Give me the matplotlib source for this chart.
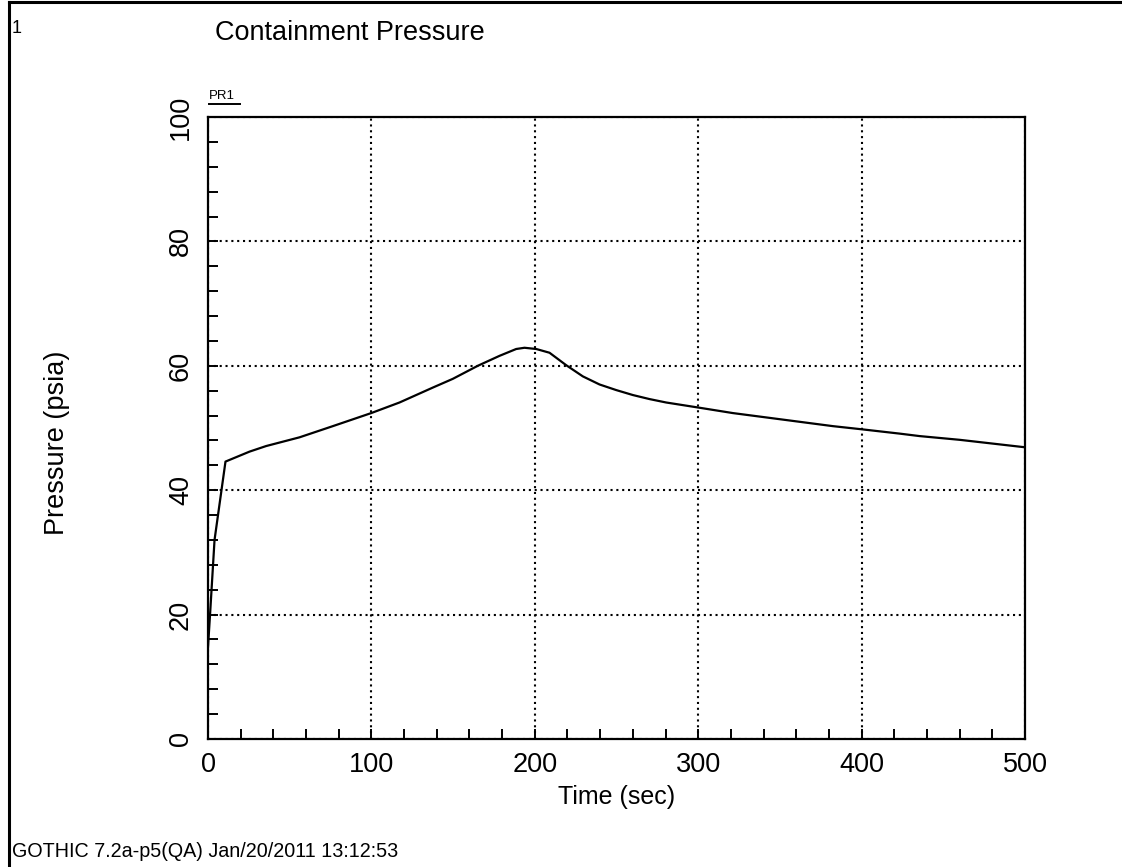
import matplotlib
matplotlib.use("Agg")
import matplotlib.pyplot as plt
from matplotlib.lines import Line2D
from matplotlib.ticker import MultipleLocator

plt.rcParams["font.family"] = ["Liberation Sans", "DejaVu Sans"]

# Containment pressure history (PR1)
time_s = [0.0, 1.3, 4.0, 10.7, 25.4, 35.6, 56.0, 76.4, 99.9, 117.2, 137.6,
          149.8, 165.1, 178.4, 188.6, 193.7, 200.9, 209.0, 219.2, 229.4,
          239.6, 249.8, 260.0, 270.2, 280.4, 299.8, 321.2, 341.6, 362.0,
          382.4, 399.8, 423.2, 435.5, 460.0, 480.0, 500.0]
pressure_psia = [14.8, 20.2, 32.0, 44.6, 46.2, 47.1, 48.5, 50.3, 52.4, 54.1,
                 56.5, 57.9, 60.0, 61.6, 62.7, 62.9, 62.7, 62.1, 60.1, 58.3,
                 57.0, 56.1, 55.3, 54.65, 54.1, 53.3, 52.4, 51.7, 51.0, 50.3,
                 49.8, 49.1, 48.7, 48.1, 47.5, 46.9]

x_major = [0, 100, 200, 300, 400, 500]
y_major = [0, 20, 40, 60, 80, 100]

W, H = 1122, 867
fig = plt.figure(figsize=(W / 100, H / 100), dpi=100)
ax = fig.add_axes([208 / W, 1 - 739 / H, (1025 - 208) / W, (739 - 117) / H])

ax.plot(time_s, pressure_psia, color="black", lw=1.6, solid_joinstyle="round")

ax.set_xlim(0, 500)
ax.set_ylim(0, 100)
ax.set_xticks(x_major)
ax.set_yticks(y_major)
ax.set_xticklabels([str(v) for v in x_major])
ax.set_yticklabels([str(v) for v in y_major], rotation=90, va="center")
ax.xaxis.set_minor_locator(MultipleLocator(20))
ax.yaxis.set_minor_locator(MultipleLocator(4))

ax.tick_params(which="both", direction="in", length=7.5, width=1.4,
               top=False, right=False, labelsize=19.5, color="black")
ax.tick_params(axis="x", pad=9)
ax.tick_params(axis="y", pad=10)

for s in ax.spines.values():
    s.set_linewidth(1.6)
    s.set_color("black")

ax.grid(True, which="major", color="black", linestyle=(0, (1, 1.8)), lw=1.5)

# legend tag above the plot
fig.text(209 / W, 1 - 99 / H, "PR1", fontsize=9.5, ha="left", va="baseline")
fig.add_artist(Line2D([209 / W, 240 / W], [1 - 104 / H, 1 - 104 / H],
                      color="black", lw=1.4, transform=fig.transFigure))

# page frame, title and annotations
fig.add_artist(Line2D([9 / W, 9 / W], [0, 1 - 2 / H], color="black", lw=2.2,
                      transform=fig.transFigure))
fig.add_artist(Line2D([9 / W, 1], [1 - 2 / H, 1 - 2 / H], color="black", lw=2.2,
                      transform=fig.transFigure))
fig.text(12 / W, 1 - 33 / H, "1", fontsize=13, ha="left", va="baseline")
fig.text(215 / W, 1 - 40 / H, "Containment Pressure", fontsize=19.5,
         ha="left", va="baseline")
fig.text(617 / W, 1 - 797 / H, "Time (sec)", fontsize=18,
         ha="center", va="center")
fig.text(57 / W, 1 - 443 / H, "Pressure (psia)", fontsize=19.5,
         ha="center", va="center", rotation=90)
fig.text(12 / W, 1 - 857 / H, "GOTHIC 7.2a-p5(QA) Jan/20/2011 13:12:53",
         fontsize=14.2, ha="left", va="baseline")

fig.savefig("out.png", dpi=100, facecolor="white")
